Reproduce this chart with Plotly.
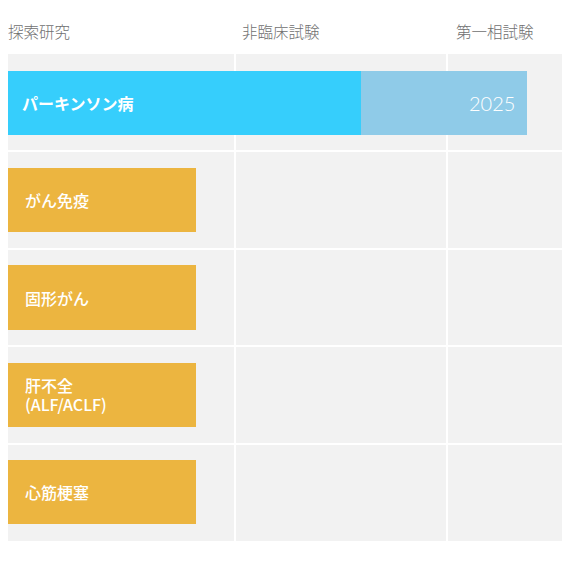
import plotly.graph_objects as go

# ステージ(列)の見出しと境界位置
stages = ["探索研究", "非臨床試験", "第一相試験"]
stage_starts = [0, 227, 439]
header_x = [0, 232, 446]

# パイプライン(行)
programs = ["パーキンソン病", "がん免疫", "固形がん", "肝不全<br>(ALF/ACLF)", "心筋梗塞"]
progress = [353, 188, 188, 188, 188]
planned = [166, 0, 0, 0, 0]
planned_label = ["2025", "", "", "", ""]
colors = ["#36cefc", "#ecb540", "#ecb540", "#ecb540", "#ecb540"]

rows = list(range(len(programs)))

fig = go.Figure()

fig.add_trace(go.Bar(
    y=rows, x=progress, base=[0] * len(rows),
    orientation="h", width=0.66,
    marker=dict(color=colors, line=dict(width=0)),
    hoverinfo="skip", showlegend=False
))

fig.add_trace(go.Bar(
    y=rows, x=planned, base=progress,
    orientation="h", width=0.66,
    marker=dict(color="#8fcbe8", line=dict(width=0)),
    hoverinfo="skip", showlegend=False
))

annotations = []
for i, name in enumerate(programs):
    lines = name.split("<br>")
    for k, line in enumerate(lines):
        annotations.append(dict(
            x=12 if i == 0 else 15, y=i, xref="x", yref="y",
            yshift=-(k - (len(lines) - 1) / 2) * 19,
            text=line, showarrow=False, xanchor="left", align="left",
            font=dict(family="Noto Sans CJK JP", size=16, color="white",
                      weight=600 if i == 0 else 500)
        ))
    if planned_label[i]:
        annotations.append(dict(
            x=progress[i] + planned[i] - 10, y=i, xref="x", yref="y",
            text=planned_label[i], showarrow=False, xanchor="right",
            font=dict(family="Lato", size=20, color="white", weight=300)
        ))

for s, x0 in zip(stages, header_x):
    annotations.append(dict(
        x=x0, y=1, xref="x", yref="paper", yanchor="bottom", yshift=10,
        xshift=-2 if x0 == 0 else 0,
        text=s, showarrow=False, xanchor="left",
        font=dict(family="Noto Sans CJK JP", size=15.5, color="#707070", weight=300)
    ))

fig.update_layout(
    width=570, height=570,
    margin=dict(l=0, r=0, t=46, b=37),
    paper_bgcolor="white", plot_bgcolor="#f2f2f2",
    barmode="overlay", bargap=0,
    annotations=annotations,
    xaxis=dict(range=[0, 570], tickvals=stage_starts[1:], showticklabels=False,
               showgrid=True, gridcolor="white", gridwidth=2, zeroline=False, fixedrange=True),
    yaxis=dict(range=[4.5, -0.5], tickvals=[0.5, 1.5, 2.5, 3.5], showticklabels=False,
               showgrid=True, gridcolor="white", gridwidth=2, zeroline=False, fixedrange=True),
)

fig.write_html("out.html")
